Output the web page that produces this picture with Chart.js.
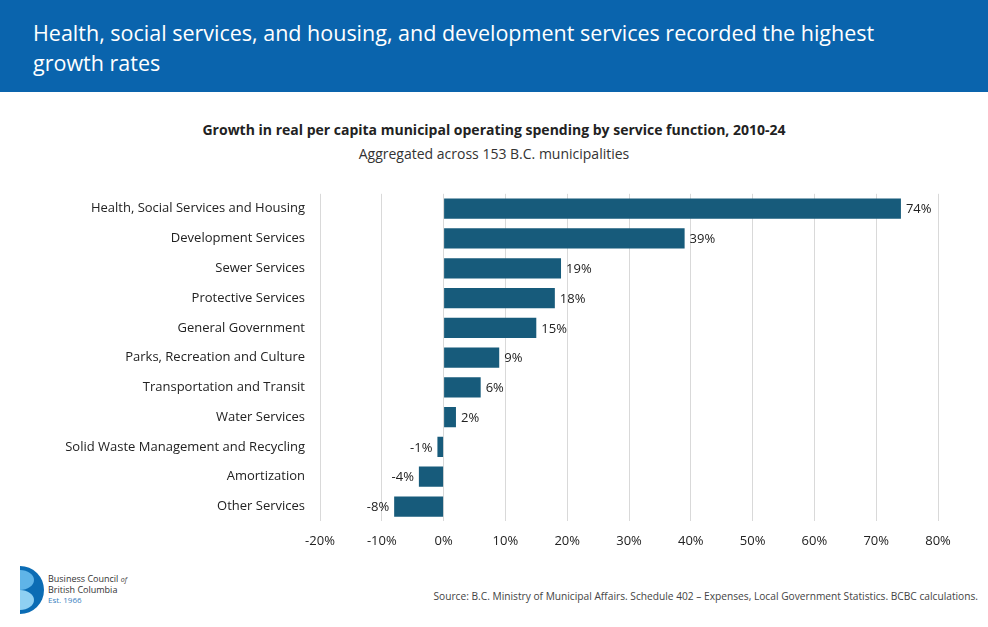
<!DOCTYPE html>
<html>
<head>
<meta charset="utf-8">
<script src="https://cdn.jsdelivr.net/npm/chart.js@4"></script>
<style>
  body { margin: 0; width: 988px; height: 627px; position: relative; background: #fff; font-family: "Open Sans", sans-serif; overflow: hidden; }
  .header { position: absolute; left: 0; top: 0; width: 988px; height: 92px; background: #0a64ad; }
  .header div { position: absolute; left: 33px; top: 18px; color: #fff; font-size: 21.5px; line-height: 30px; width: 880px; }
  .t1 { position: absolute; top: 120px; width: 988px; text-align: center; font-weight: bold; font-size: 14px; color: #222; }
  .t2 { position: absolute; top: 144px; width: 988px; text-align: center; font-size: 14px; color: #333; }
  #wrap { position: absolute; left: 0; top: 179px; width: 988px; height: 382px; }
  .src { position: absolute; right: 10px; top: 589px; font-size: 10.2px; color: #444; }
  .logo { position: absolute; left: 18px; top: 566px; }
  .logo .txt { position: absolute; left: 30px; top: 8px; font-size: 9px; line-height: 10px; color: #333; white-space: nowrap; }
</style>
</head>
<body>
<div class="header"><div>Health, social services, and housing, and development services recorded the highest growth rates</div></div>
<div class="t1">Growth in real per capita municipal operating spending by service function, 2010-24</div>
<div class="t2">Aggregated across 153 B.C. municipalities</div>
<div id="wrap"><canvas id="c"></canvas></div>
<div class="logo">
  <svg width="30" height="48" viewBox="0 0 30 48">
    <path d="M2 0 A24 24 0 0 1 2 48 Z" fill="#0b6cb4"/>
    <path d="M2 4 A14 10 0 0 1 2 24 Z" fill="#5fb4e8"/>
    <path d="M2 24 A14 10 0 0 1 2 44 Z" fill="#8fd0f2"/>
  </svg>
  <div class="txt">Business Council <i style="font-size:7px">of</i><br>British Columbia<br><span style="color:#3a7fc0;font-size:8px">Est. 1966</span></div>
</div>
<div class="src">Source: B.C. Ministry of Municipal Affairs. Schedule 402 – Expenses, Local Government Statistics. BCBC calculations.</div>
<script>
const categories = [
  'Health, Social Services and Housing', 'Development Services', 'Sewer Services',
  'Protective Services', 'General Government', 'Parks, Recreation and Culture',
  'Transportation and Transit', 'Water Services', 'Solid Waste Management and Recycling',
  'Amortization', 'Other Services'
];
const growth = [74, 39, 19, 18, 15, 9, 6, 2, -1, -4, -8];
const xTicks = [-20, -10, 0, 10, 20, 30, 40, 50, 60, 70, 80];

// Wert-Beschriftungen an den Balkenenden
const valueLabels = {
  id: 'valueLabels',
  afterDatasetsDraw(chart) {
    const ctx = chart.ctx;
    const meta = chart.getDatasetMeta(0);
    ctx.save();
    ctx.font = '13px "Open Sans", sans-serif';
    ctx.fillStyle = '#222';
    ctx.textBaseline = 'middle';
    meta.data.forEach((bar, i) => {
      const v = growth[i];
      ctx.textAlign = v >= 0 ? 'left' : 'right';
      ctx.fillText(v + '%', bar.x + (v >= 0 ? 5 : -5), bar.y + 1);
    });
    ctx.restore();
  }
};

new Chart(document.getElementById('c'), {
  type: 'bar',
  data: {
    labels: categories,
    datasets: [{
      data: growth,
      backgroundColor: '#175b7b',
      barPercentage: 0.68,
      categoryPercentage: 1
    }]
  },
  options: {
    indexAxis: 'y',
    responsive: true,
    maintainAspectRatio: false,
    animation: false,
    layout: { padding: { top: 8, right: 50, bottom: 0, left: 0 } },
    plugins: { legend: { display: false }, tooltip: { enabled: false } },
    scales: {
      x: {
        min: -20, max: 80,
        afterBuildTicks: axis => { axis.ticks = xTicks.map(v => ({ value: v })); },
        ticks: { callback: v => v + '%', color: '#222', font: { size: 13, family: 'Open Sans' }, padding: 12 },
        grid: { color: '#d9d9d9', drawTicks: false },
        border: { display: false }
      },
      y: {
        afterFit: axis => { axis.width = 320; },
        ticks: { color: '#222', font: { size: 13, family: 'Open Sans' }, padding: 7 },
        grid: { display: false },
        border: { display: false }
      }
    }
  },
  plugins: [valueLabels]
});
</script>
</body>
</html>
